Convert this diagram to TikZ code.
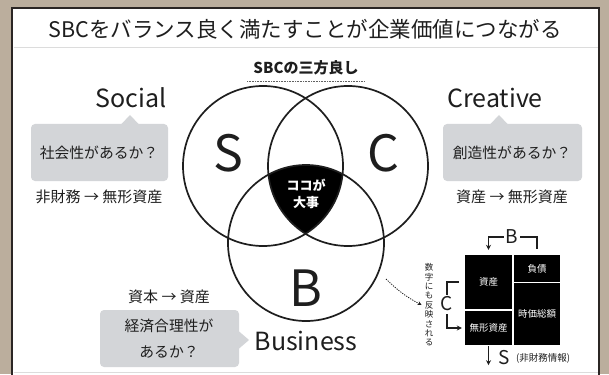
\documentclass[tikz,border=0pt]{standalone}
\usepackage{fontspec}
\setmainfont{Noto Sans CJK JP}
\usetikzlibrary{arrows.meta}
\definecolor{tanbg}{HTML}{BBAE9D}
\definecolor{framec}{HTML}{2B2624}
\definecolor{bubc}{HTML}{D3D5D8}
\definecolor{sepc}{HTML}{DCDCDC}
\definecolor{ink}{HTML}{1E1E1E}
\begin{document}
\begin{tikzpicture}[x=1pt,y=-1pt,
  txt/.style={inner sep=0pt, text=ink},
  bigletter/.style={txt, font=\fontsize{50}{50}\selectfont},
  heading/.style={txt, font=\fontsize{25}{25}\selectfont},
  bubtext/.style={txt, font=\fontsize{14.8}{26}\selectfont, align=center},
  subtext/.style={txt, font=\fontsize{15}{15}\selectfont},
  sheet/.style={fill=black, draw=none, inner sep=0pt, text=white, font=\fontsize{9.5}{9.5}\selectfont},
  circ/.style={draw=ink, line width=1.7pt},
  brk/.style={draw=ink, line width=1.1pt},
  tip/.style={-{Stealth[length=5pt,width=5pt]}}
]
\useasboundingbox (0,0) rectangle (609,374);
\fill[tanbg] (0,0) rectangle (609,374);
\fill[white] (12,8) rectangle (599,374);
\draw[framec, line width=2.5pt] (12,378) -- (12,8) -- (599,8) -- (599,378);
\draw[sepc, line width=1pt] (13.5,48) -- (597.5,48);
\draw[sepc, line width=1pt] (13.5,372.5) -- (597.5,372.5);

% title
\node[txt, font=\fontsize{21.5}{21.5}\selectfont] (title) at (305,29) {SBCをバランス良く満たすことが企業価値につながる};

% subtitle
\node[txt, font=\bfseries\fontsize{15}{15}\selectfont] (sub) at (306,68) {SBCの三方良し};
\draw[ink!70, line width=0.8pt, dash pattern=on 1pt off 0.6pt] (247,81) -- (365,81);

% venn
\begin{scope}
  \clip (263,166) circle[radius=80pt];
  \clip (348,166) circle[radius=80pt];
  \fill[black] (306,243) circle[radius=78pt];
\end{scope}
\draw[circ] (263,166) circle[radius=80pt];
\draw[circ] (348,166) circle[radius=80pt];
\draw[circ] (306,243) circle[radius=78pt];
\node[bigletter] (S) at (228,153) {S};
\node[bigletter] (C) at (383,153) {C};
\node[bigletter] (B) at (306,288) {B};
\node[txt, text=white, font=\bfseries\fontsize{13}{17}\selectfont, align=center] (core) at (306,194) {ココが\\大事};

% Social
\node[heading] (social) at (131,98) {Social};
\fill[bubc, rounded corners=4pt] (31,124) rectangle (168,181);
\fill[bubc] (121,124.5) -- (130,115) -- (139,124.5) -- cycle;
\node[bubtext] (sq) at (99,153) {社会性があるか？};
\node[subtext] (sa) at (99,197) {非財務 → 無形資産};

% Creative
\node[heading] (creative) at (495,98) {Creative};
\fill[bubc, rounded corners=4pt] (443,124) rectangle (582,181);
\fill[bubc] (490,124.5) -- (499,115) -- (508,124.5) -- cycle;
\node[bubtext] (cq) at (512,153) {創造性があるか？};
\node[subtext] (ca) at (512,197) {資産 → 無形資産};

% Business
\node[subtext] (ba) at (169,297) {資本 → 資産};
\fill[bubc, rounded corners=4pt] (100,310) rectangle (239,367);
\fill[bubc] (238.5,331) -- (249,340) -- (238.5,349) -- cycle;
\node[bubtext] (bq) at (169,339) {経済合理性が\\あるか？};
\node[heading] (business) at (306,341) {Business};

% balance sheet
\node[sheet, minimum width=47pt, minimum height=54pt] (asset) at (488.5,282) {資産};
\node[sheet, minimum width=47pt, minimum height=34pt] (intang) at (488.5,328) {無形資産};
\node[sheet, minimum width=46pt, minimum height=27pt] (debt) at (537,268.5) {負債};
\node[sheet, minimum width=46pt, minimum height=62pt] (mcap) at (537,314) {時価総額};

\node[txt, font=\fontsize{19}{19}\selectfont] (bB) at (512,237) {B};
\node[txt, font=\fontsize{19}{19}\selectfont] (bC) at (447,304) {C};
\node[txt, font=\fontsize{19}{19}\selectfont] (bS) at (504,358) {S};
\node[txt, font=\fontsize{9.5}{9.5}\selectfont, anchor=west] (nf) at (516,358) {(非財務情報)};

\draw[brk, tip] ([xshift=-2pt]bB.west) -| ([yshift=5pt]asset.north);
\draw[brk] ([xshift=2pt]bB.east) -| ([yshift=6pt]debt.north);
\draw[brk] ([yshift=2pt]bC.north) |- ([xshift=-6pt]asset.west);
\draw[brk, tip] ([yshift=-3pt]bC.south) |- ([xshift=-3pt]intang.west);
\draw[brk, tip] ([yshift=-1pt]intang.south) -- ++(0,19);

% vertical note
\node[txt, font=\fontsize{8.5}{9.4}\selectfont, align=center] (vt) at (429,305) {数\\字\\に\\も\\反\\映\\さ\\れ\\る};
\coordinate (dstart) at (386,279);
\draw[ink, line width=0.8pt, dash pattern=on 1.2pt off 1.2pt, -{Stealth[length=4pt,width=4pt]}] (dstart) to[bend right=8] ([xshift=-3pt]vt.west);
\end{tikzpicture}
\end{document}
